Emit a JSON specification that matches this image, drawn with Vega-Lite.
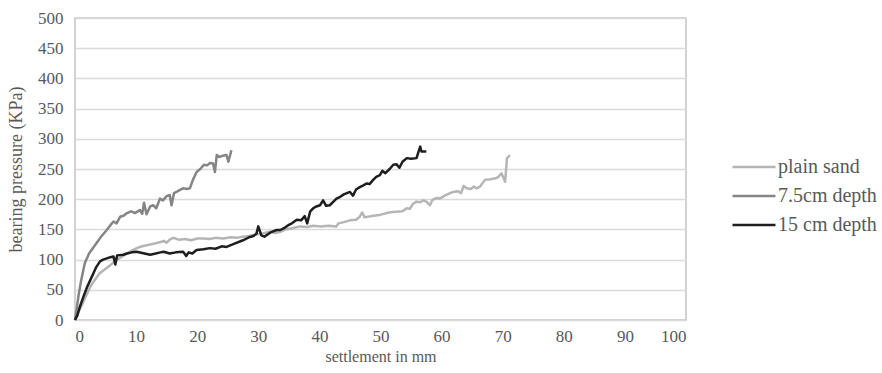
{
  "$schema": "https://vega.github.io/schema/vega-lite/v6.json",
  "width": 611,
  "height": 302,
  "autosize": "none",
  "padding": {"left": 75, "top": 18, "right": 196, "bottom": 53},
  "background": "white",
  "config": {
    "font": "Liberation Serif",
    "view": {"stroke": "#c4c4c4", "strokeWidth": 1.5},
    "axis": {"labelFont": "Liberation Serif", "titleFont": "Liberation Serif", "labelColor": "#595959", "titleColor": "#595959", "labelFontSize": 17, "titleFontSize": 16, "titleFontWeight": "normal", "domain": false, "ticks": false}
  },
  "data": {"values": [
    {"s":"plain sand","x":0,"y":0},{"s":"plain sand","x":0.5,"y":12},{"s":"plain sand","x":1,"y":22},{"s":"plain sand","x":1.5,"y":33},{"s":"plain sand","x":2,"y":44},{"s":"plain sand","x":2.5,"y":55},{"s":"plain sand","x":3,"y":63},{"s":"plain sand","x":3.5,"y":70},{"s":"plain sand","x":4,"y":77},{"s":"plain sand","x":5,"y":85},{"s":"plain sand","x":5.7,"y":90},{"s":"plain sand","x":6.5,"y":97},{"s":"plain sand","x":7.4,"y":103},{"s":"plain sand","x":8.5,"y":110},{"s":"plain sand","x":9.3,"y":115},{"s":"plain sand","x":10.1,"y":119},{"s":"plain sand","x":11,"y":122},{"s":"plain sand","x":12.3,"y":125},{"s":"plain sand","x":13.2,"y":127},{"s":"plain sand","x":14,"y":129},{"s":"plain sand","x":14.5,"y":131},{"s":"plain sand","x":15,"y":128},{"s":"plain sand","x":15.5,"y":133},{"s":"plain sand","x":16.1,"y":136},{"s":"plain sand","x":17,"y":133},{"s":"plain sand","x":18,"y":134},{"s":"plain sand","x":19,"y":132},{"s":"plain sand","x":20,"y":135},{"s":"plain sand","x":21,"y":135},{"s":"plain sand","x":22,"y":134},{"s":"plain sand","x":23,"y":136},{"s":"plain sand","x":24.3,"y":135},{"s":"plain sand","x":25.5,"y":137},{"s":"plain sand","x":26.5,"y":136},{"s":"plain sand","x":27.5,"y":138},{"s":"plain sand","x":28.5,"y":139},{"s":"plain sand","x":29.5,"y":141},{"s":"plain sand","x":30.5,"y":143},{"s":"plain sand","x":31.9,"y":146},{"s":"plain sand","x":32.8,"y":144},{"s":"plain sand","x":33.6,"y":146},{"s":"plain sand","x":34.5,"y":150},{"s":"plain sand","x":35.5,"y":152},{"s":"plain sand","x":36.8,"y":155},{"s":"plain sand","x":38,"y":154},{"s":"plain sand","x":39,"y":156},{"s":"plain sand","x":40.1,"y":155},{"s":"plain sand","x":41.5,"y":156},{"s":"plain sand","x":42.8,"y":155},{"s":"plain sand","x":43.1,"y":160},{"s":"plain sand","x":44,"y":162},{"s":"plain sand","x":45,"y":165},{"s":"plain sand","x":46,"y":166},{"s":"plain sand","x":46.6,"y":171},{"s":"plain sand","x":47,"y":178},{"s":"plain sand","x":47.4,"y":170},{"s":"plain sand","x":48.5,"y":172},{"s":"plain sand","x":49.9,"y":174},{"s":"plain sand","x":51,"y":177},{"s":"plain sand","x":52,"y":179},{"s":"plain sand","x":53.6,"y":180},{"s":"plain sand","x":54.3,"y":185},{"s":"plain sand","x":54.8,"y":184},{"s":"plain sand","x":55.3,"y":192},{"s":"plain sand","x":55.9,"y":196},{"s":"plain sand","x":56.5,"y":195},{"s":"plain sand","x":57,"y":198},{"s":"plain sand","x":57.5,"y":196},{"s":"plain sand","x":58.1,"y":190},{"s":"plain sand","x":58.5,"y":199},{"s":"plain sand","x":59.2,"y":202},{"s":"plain sand","x":59.7,"y":201},{"s":"plain sand","x":60.5,"y":206},{"s":"plain sand","x":61.4,"y":210},{"s":"plain sand","x":61.9,"y":212},{"s":"plain sand","x":62.7,"y":213},{"s":"plain sand","x":63.2,"y":210},{"s":"plain sand","x":63.6,"y":222},{"s":"plain sand","x":64.1,"y":218},{"s":"plain sand","x":64.8,"y":217},{"s":"plain sand","x":65.3,"y":221},{"s":"plain sand","x":65.7,"y":218},{"s":"plain sand","x":66.3,"y":221},{"s":"plain sand","x":67.1,"y":232},{"s":"plain sand","x":68,"y":233},{"s":"plain sand","x":69,"y":235},{"s":"plain sand","x":69.4,"y":238},{"s":"plain sand","x":69.8,"y":243},{"s":"plain sand","x":70.4,"y":229},{"s":"plain sand","x":70.7,"y":268},{"s":"plain sand","x":71.2,"y":273},
    {"s":"7.5cm depth","x":0,"y":0},{"s":"7.5cm depth","x":0.3,"y":20},{"s":"7.5cm depth","x":0.6,"y":42},{"s":"7.5cm depth","x":1,"y":65},{"s":"7.5cm depth","x":1.6,"y":94},{"s":"7.5cm depth","x":2.3,"y":110},{"s":"7.5cm depth","x":3,"y":120},{"s":"7.5cm depth","x":3.5,"y":127},{"s":"7.5cm depth","x":4.2,"y":137},{"s":"7.5cm depth","x":5.2,"y":149},{"s":"7.5cm depth","x":5.8,"y":157},{"s":"7.5cm depth","x":6.3,"y":163},{"s":"7.5cm depth","x":6.8,"y":160},{"s":"7.5cm depth","x":7.4,"y":171},{"s":"7.5cm depth","x":8,"y":173},{"s":"7.5cm depth","x":8.5,"y":177},{"s":"7.5cm depth","x":9.2,"y":180},{"s":"7.5cm depth","x":9.8,"y":177},{"s":"7.5cm depth","x":10.6,"y":182},{"s":"7.5cm depth","x":11,"y":176},{"s":"7.5cm depth","x":11.3,"y":194},{"s":"7.5cm depth","x":11.7,"y":175},{"s":"7.5cm depth","x":12.3,"y":188},{"s":"7.5cm depth","x":12.8,"y":190},{"s":"7.5cm depth","x":13.3,"y":185},{"s":"7.5cm depth","x":13.9,"y":201},{"s":"7.5cm depth","x":14.4,"y":198},{"s":"7.5cm depth","x":15,"y":205},{"s":"7.5cm depth","x":15.5,"y":207},{"s":"7.5cm depth","x":15.8,"y":190},{"s":"7.5cm depth","x":16.2,"y":210},{"s":"7.5cm depth","x":16.6,"y":212},{"s":"7.5cm depth","x":17.1,"y":215},{"s":"7.5cm depth","x":17.7,"y":218},{"s":"7.5cm depth","x":18.3,"y":217},{"s":"7.5cm depth","x":18.8,"y":218},{"s":"7.5cm depth","x":19.3,"y":232},{"s":"7.5cm depth","x":19.9,"y":245},{"s":"7.5cm depth","x":20.5,"y":250},{"s":"7.5cm depth","x":21.1,"y":257},{"s":"7.5cm depth","x":21.6,"y":256},{"s":"7.5cm depth","x":22.1,"y":260},{"s":"7.5cm depth","x":22.6,"y":259},{"s":"7.5cm depth","x":22.9,"y":245},{"s":"7.5cm depth","x":23.2,"y":273},{"s":"7.5cm depth","x":23.7,"y":270},{"s":"7.5cm depth","x":24.2,"y":272},{"s":"7.5cm depth","x":24.8,"y":273},{"s":"7.5cm depth","x":25.1,"y":262},{"s":"7.5cm depth","x":25.6,"y":281},
    {"s":"15 cm depth","x":0,"y":0},{"s":"15 cm depth","x":0.4,"y":8},{"s":"15 cm depth","x":0.8,"y":22},{"s":"15 cm depth","x":1.4,"y":39},{"s":"15 cm depth","x":2,"y":55},{"s":"15 cm depth","x":2.5,"y":66},{"s":"15 cm depth","x":3,"y":77},{"s":"15 cm depth","x":3.5,"y":88},{"s":"15 cm depth","x":4.1,"y":97},{"s":"15 cm depth","x":4.6,"y":100},{"s":"15 cm depth","x":5.2,"y":102},{"s":"15 cm depth","x":5.8,"y":104},{"s":"15 cm depth","x":6.3,"y":105},{"s":"15 cm depth","x":6.6,"y":92},{"s":"15 cm depth","x":6.9,"y":107},{"s":"15 cm depth","x":7.9,"y":108},{"s":"15 cm depth","x":8.5,"y":110},{"s":"15 cm depth","x":9.3,"y":112},{"s":"15 cm depth","x":10.1,"y":113},{"s":"15 cm depth","x":11,"y":111},{"s":"15 cm depth","x":12.3,"y":108},{"s":"15 cm depth","x":13.2,"y":110},{"s":"15 cm depth","x":14,"y":112},{"s":"15 cm depth","x":14.5,"y":113},{"s":"15 cm depth","x":15.5,"y":110},{"s":"15 cm depth","x":16.5,"y":112},{"s":"15 cm depth","x":17.7,"y":113},{"s":"15 cm depth","x":18.2,"y":106},{"s":"15 cm depth","x":18.6,"y":112},{"s":"15 cm depth","x":19.2,"y":110},{"s":"15 cm depth","x":19.9,"y":116},{"s":"15 cm depth","x":21,"y":117},{"s":"15 cm depth","x":22.1,"y":119},{"s":"15 cm depth","x":23,"y":118},{"s":"15 cm depth","x":24,"y":122},{"s":"15 cm depth","x":24.8,"y":121},{"s":"15 cm depth","x":26,"y":126},{"s":"15 cm depth","x":27.5,"y":132},{"s":"15 cm depth","x":28.5,"y":137},{"s":"15 cm depth","x":29.2,"y":139},{"s":"15 cm depth","x":29.7,"y":143},{"s":"15 cm depth","x":30,"y":155},{"s":"15 cm depth","x":30.5,"y":140},{"s":"15 cm depth","x":31,"y":138},{"s":"15 cm depth","x":32,"y":145},{"s":"15 cm depth","x":33,"y":149},{"s":"15 cm depth","x":33.6,"y":149},{"s":"15 cm depth","x":34.2,"y":152},{"s":"15 cm depth","x":34.9,"y":157},{"s":"15 cm depth","x":35.5,"y":160},{"s":"15 cm depth","x":36.3,"y":166},{"s":"15 cm depth","x":37,"y":165},{"s":"15 cm depth","x":37.6,"y":172},{"s":"15 cm depth","x":38,"y":160},{"s":"15 cm depth","x":38.5,"y":180},{"s":"15 cm depth","x":39,"y":185},{"s":"15 cm depth","x":39.5,"y":188},{"s":"15 cm depth","x":40.1,"y":190},{"s":"15 cm depth","x":40.6,"y":198},{"s":"15 cm depth","x":41.1,"y":189},{"s":"15 cm depth","x":41.7,"y":190},{"s":"15 cm depth","x":42.3,"y":196},{"s":"15 cm depth","x":42.8,"y":201},{"s":"15 cm depth","x":43.4,"y":204},{"s":"15 cm depth","x":44,"y":208},{"s":"15 cm depth","x":45,"y":212},{"s":"15 cm depth","x":45.5,"y":206},{"s":"15 cm depth","x":46,"y":216},{"s":"15 cm depth","x":46.6,"y":220},{"s":"15 cm depth","x":47.2,"y":223},{"s":"15 cm depth","x":47.7,"y":226},{"s":"15 cm depth","x":48.2,"y":225},{"s":"15 cm depth","x":48.8,"y":232},{"s":"15 cm depth","x":49.3,"y":237},{"s":"15 cm depth","x":49.9,"y":240},{"s":"15 cm depth","x":50.3,"y":247},{"s":"15 cm depth","x":50.8,"y":243},{"s":"15 cm depth","x":51.5,"y":250},{"s":"15 cm depth","x":52.1,"y":257},{"s":"15 cm depth","x":52.6,"y":258},{"s":"15 cm depth","x":53.1,"y":252},{"s":"15 cm depth","x":53.6,"y":262},{"s":"15 cm depth","x":54.3,"y":268},{"s":"15 cm depth","x":55,"y":267},{"s":"15 cm depth","x":55.9,"y":268},{"s":"15 cm depth","x":56.2,"y":278},{"s":"15 cm depth","x":56.5,"y":287},{"s":"15 cm depth","x":56.7,"y":279},{"s":"15 cm depth","x":57.5,"y":279}
  ]},
  "mark": {"type": "line", "strokeWidth": 2.5, "strokeJoin": "round"},
  "encoding": {
    "x": {"field": "x", "type": "quantitative", "title": "settlement in mm", "scale": {"domain": [0, 100], "nice": false}, "axis": {"values": [0,10,20,30,40,50,60,70,80,90,100], "grid": false, "labelPadding": 8, "titlePadding": 4, "labelFont": "Liberation Serif", "labelFontSize": 17}},
    "y": {"field": "y", "type": "quantitative", "title": "bearing pressure (KPa)", "scale": {"domain": [0, 500], "nice": false}, "axis": {"values": [0,50,100,150,200,250,300,350,400,450,500], "gridColor": "#dadada", "gridWidth": 1.5, "labelPadding": 12, "titlePadding": 12, "titleFontSize": 18, "labelFont": "Liberation Serif", "labelFontSize": 17}},
    "color": {"field": "s", "type": "nominal", "sort": null, "scale": {"domain": ["plain sand", "7.5cm depth", "15 cm depth"], "range": ["#b5b5b5", "#858585", "#1e1e1e"]},
      "legend": {"title": null, "orient": "none", "legendX": 667, "legendY": 137, "symbolType": "M-2,0H2", "symbolSize": 462, "symbolStrokeWidth": 2.5, "rowPadding": 7, "padding": 0, "labelFont": "Liberation Serif", "labelFontSize": 20, "labelColor": "#595959", "labelOffset": 12, "labelLimit": 300}}
  }
}
